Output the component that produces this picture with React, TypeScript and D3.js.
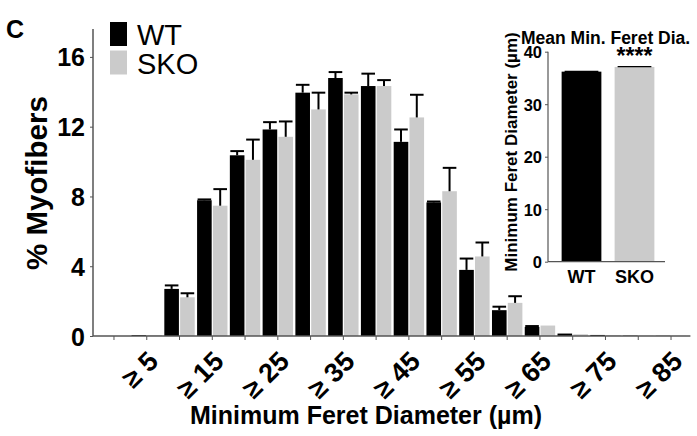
import { useRef, useEffect } from "react";
import * as d3 from "d3";

// bins of minimum feret diameter (um)
const bins = ["0", "5", "10", "15", "20", "25", "30", "35", "40", "45", "50", "55", "60", "65", "70", "75", "80", "85"];
const wtPct = [0, 0.05, 2.7, 7.78, 10.36, 11.84, 13.95, 14.79, 14.33, 11.13, 7.66, 3.79, 1.48, 0.52, 0.14, 0.06, 0.02, 0.01];
const wtErr = [0, 0.01, 0.2, 0.05, 0.24, 0.42, 0.45, 0.34, 0.71, 0.71, 0.05, 0.65, 0.2, 0.05, 0.02, 0.01, 0, 0];
const skoPct = [0, 0.05, 2.22, 7.47, 10.1, 11.42, 12.99, 13.85, 14.33, 12.53, 8.3, 4.56, 1.9, 0.6, 0.1, 0.05, 0.02, 0.01];
const skoErr = [0, 0.01, 0.23, 0.95, 1.16, 0.88, 0.96, 0.1, 0.34, 1.3, 1.34, 0.8, 0.38, 0.03, 0.02, 0.01, 0, 0];
const yTicks = [0, 4, 8, 12, 16];

// inset: mean min feret diameter
const groups = ["WT", "SKO"];
const meanDia = [36.2, 37.1];
const meanErr = [0.06, 0.06];
const insetTicks = [0, 10, 20, 30, 40];

const FONT = "'Liberation Sans', Arial, sans-serif";
const GRAY = "#cbcbcb";
const AXIS = "#555";

const App = () => {
  const svgRef = useRef<SVGSVGElement>(null);

  useEffect(() => {
    const svg = d3.select(svgRef.current);
    svg.selectAll("*").remove();
    svg.style("font-family", FONT);

    // ---------- main chart ----------
    const x = d3.scaleBand().domain(bins).range([97.6, 687.4]);
    const y = d3.scaleLinear().domain([0, 17.6]).range([336, 29]);
    const step = x.step();
    const bw = 14.6;
    const cx = (b) => (x(b) as number) + step / 2;

    const main = svg.append("g");

    // bars
    const series = [
      { vals: wtPct, errs: wtErr, fill: "#000", off: -bw - 0.6 },
      { vals: skoPct, errs: skoErr, fill: GRAY, off: 0.6 },
    ];
    series.forEach((s) => {
      main
        .append("g")
        .selectAll("rect")
        .data(bins)
        .join("rect")
        .attr("x", (b) => cx(b) + s.off)
        .attr("width", bw)
        .attr("y", (b, i) => y(s.vals[i]))
        .attr("height", (b, i) => y(0) - y(s.vals[i]))
        .attr("fill", s.fill);
    });
    // error bars (upper only)
    series.forEach((s) => {
      const g = main.append("g").attr("stroke", "#000").attr("stroke-width", 2);
      bins.forEach((b, i) => {
        if (s.errs[i] < 0.04) return;
        const xm = cx(b) + s.off + bw / 2;
        const top = y(s.vals[i] + s.errs[i]);
        g.append("line").attr("x1", xm).attr("x2", xm).attr("y1", y(s.vals[i])).attr("y2", top);
        g.append("line")
          .attr("x1", xm - bw / 2 + 0.5)
          .attr("x2", xm + bw / 2 - 0.5)
          .attr("y1", top)
          .attr("y2", top);
      });
    });

    // y axis
    const yAxis = d3.axisLeft(y).tickValues(yTicks).tickSize(3).tickSizeOuter(0).tickPadding(5);
    const yg = main.append("g").attr("transform", "translate(93,0)").call(yAxis);
    yg.select(".domain").remove();
    yg.selectAll("line").attr("stroke", AXIS);
    yg.selectAll("text")
      .attr("font-size", 25)
      .attr("font-weight", "bold")
      .attr("font-family", FONT)
      .attr("fill", "#000")
      .attr("dy", "0.36em");
    main
      .append("line")
      .attr("x1", 93)
      .attr("x2", 93)
      .attr("y1", y(0))
      .attr("y2", y(17.6))
      .attr("stroke", AXIS)
      .attr("stroke-width", 1.5);

    // x axis
    const xAxis = d3
      .axisBottom(x)
      .tickSize(4)
      .tickSizeOuter(0)
      .tickFormat((d, i) => (i % 2 === 1 ? "\u2265 " + d : ""));
    const xg = main.append("g").attr("transform", `translate(0,${y(0)})`).call(xAxis);
    xg.select(".domain").remove();
    xg.selectAll("line").attr("stroke", AXIS);
    xg.selectAll("text")
      .attr("font-size", 27)
      .attr("font-weight", "bold")
      .attr("font-family", FONT)
      .attr("fill", "#000")
      .attr("text-anchor", "end")
      .attr("x", 0)
      .attr("y", 0)
      .attr("dy", null)
      .attr("transform", "translate(13,27) rotate(-45)");
    main
      .append("line")
      .attr("x1", 93)
      .attr("x2", x.range()[1] + 3)
      .attr("y1", y(0))
      .attr("y2", y(0))
      .attr("stroke", AXIS)
      .attr("stroke-width", 1.5);

    // axis titles
    main
      .append("text")
      .attr("x", 366)
      .attr("y", 424)
      .attr("text-anchor", "middle")
      .attr("font-size", 25)
      .attr("font-weight", "bold")
      .text("Minimum Feret Diameter (\u00b5m)");
    main
      .append("text")
      .attr("transform", "translate(47,183) rotate(-90)")
      .attr("text-anchor", "middle")
      .attr("font-size", 29.5)
      .attr("font-weight", "bold")
      .text("% Myofibers");

    // panel letter
    main
      .append("text")
      .attr("x", 6)
      .attr("y", 38)
      .attr("font-size", 25)
      .attr("font-weight", "bold")
      .text("C");

    // legend
    const leg = main.append("g");
    [
      { name: "WT", fill: "#000" },
      { name: "SKO", fill: GRAY },
    ].forEach((d, i) => {
      leg.append("rect").attr("x", 110).attr("y", 22 + i * 28.5).attr("width", 17).attr("height", 24).attr("fill", d.fill);
      leg.append("text")
        .attr("x", 137)
        .attr("y", 45 + i * 28.5)
        .attr("font-size", 29)
        .text(d.name);
    });

    // ---------- inset ----------
    const ix = d3.scaleBand().domain(groups).range([555, 661]).paddingInner(0.25).paddingOuter(0.125);
    const iy = d3.scaleLinear().domain([0, 40]).range([261.7, 51.7]);
    const inset = svg.append("g");
    inset
      .selectAll("rect")
      .data(groups)
      .join("rect")
      .attr("x", (g) => ix(g) as number)
      .attr("width", ix.bandwidth())
      .attr("y", (g, i) => iy(meanDia[i]))
      .attr("height", (g, i) => iy(0) - iy(meanDia[i]))
      .attr("fill", (g, i) => (i === 0 ? "#000" : GRAY));
    groups.forEach((g, i) => {
      const top = iy(meanDia[i] + meanErr[i]);
      inset
        .append("line")
        .attr("x1", (ix(g) as number) + 3)
        .attr("x2", (ix(g) as number) + ix.bandwidth() - 3)
        .attr("y1", top)
        .attr("y2", top)
        .attr("stroke", "#000")
        .attr("stroke-width", 1.2);
    });

    const iyg = inset
      .append("g")
      .attr("transform", "translate(548,0)")
      .call(d3.axisLeft(iy).tickValues(insetTicks).tickSize(3).tickSizeOuter(0).tickPadding(3));
    iyg.select(".domain").remove();
    iyg.selectAll("line").attr("stroke", AXIS);
    iyg.selectAll("text")
      .attr("font-size", 16.5)
      .attr("font-weight", "bold")
      .attr("font-family", FONT)
      .attr("fill", "#000")
      .attr("dy", "0.36em");
    inset
      .append("line")
      .attr("x1", 548)
      .attr("x2", 548)
      .attr("y1", iy(0))
      .attr("y2", iy(40))
      .attr("stroke", AXIS)
      .attr("stroke-width", 1.2);
    inset
      .append("line")
      .attr("x1", 548)
      .attr("x2", 665)
      .attr("y1", iy(0))
      .attr("y2", iy(0))
      .attr("stroke", AXIS)
      .attr("stroke-width", 1.2);

    groups.forEach((g) => {
      inset
        .append("text")
        .attr("x", (ix(g) as number) + ix.bandwidth() / 2)
        .attr("y", 283)
        .attr("text-anchor", "middle")
        .attr("font-size", 18)
        .attr("font-weight", "bold")
        .text(g);
    });
    inset
      .append("text")
      .attr("x", (ix("SKO") as number) + ix.bandwidth() / 2)
      .attr("y", 64)
      .attr("text-anchor", "middle")
      .attr("font-size", 23)
      .attr("font-weight", "bold")
      .text("****");
    inset
      .append("text")
      .attr("x", 521)
      .attr("y", 44)
      .attr("font-size", 17.5)
      .attr("font-weight", "bold")
      .text("Mean Min. Feret Dia.");
    inset
      .append("text")
      .attr("transform", "translate(517,152) rotate(-90)")
      .attr("text-anchor", "middle")
      .attr("font-size", 17)
      .attr("font-weight", "bold")
      .text("Minimum Feret Diameter (\u00b5m)");
  }, []);

  return (
    <svg
      ref={svgRef}
      width={697}
      height={436}
      style={{ position: "absolute", left: 0, top: 0, background: "#fff" }}
    ></svg>
  );
};

export default App;
